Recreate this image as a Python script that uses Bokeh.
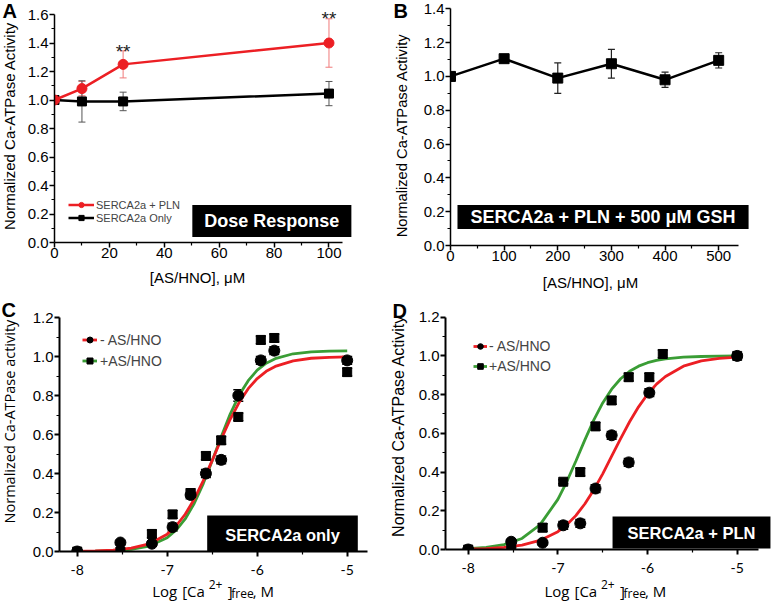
import math
from bokeh.plotting import figure
from bokeh.layouts import column, row
from bokeh.models import (ColumnDataSource, Whisker, TeeHead, Label, Legend, LegendItem,
                          FixedTicker, PrintfTickFormatter, Range1d)
from bokeh.embed import file_html
from bokeh.resources import INLINE

# ---------------- data ----------------
# Panel A: dose response
a_conc = [0, 10, 25, 100]
a_pln = [1.00, 1.08, 1.25, 1.40]
a_pln_err = [0.0, 0.05, 0.095, 0.17]
a_only = [1.00, 0.99, 0.99, 1.045]
a_only_err = [0.0, 0.145, 0.065, 0.085]
a_sig_conc = [25, 100]
a_sig_level = [1.34, 1.575]
a_x_ticks = [0, 20, 40, 60, 80, 100]
a_x_minor = [10, 30, 50, 70, 90]
a_y_ticks = [0.0, 0.2, 0.4, 0.6, 0.8, 1.0, 1.2, 1.4, 1.6]
a_y_minor = [0.1, 0.3, 0.5, 0.7, 0.9, 1.1, 1.3, 1.5]

# Panel B: + 500 uM GSH
b_conc = [0, 100, 200, 300, 400, 500]
b_act = [1.00, 1.105, 0.99, 1.075, 0.98, 1.095]
b_err = [0.0, 0.01, 0.09, 0.085, 0.045, 0.045]
b_x_ticks = [0, 100, 200, 300, 400, 500]
b_x_minor = [50, 150, 250, 350, 450]
b_y_ticks = [0.0, 0.2, 0.4, 0.6, 0.8, 1.0, 1.2, 1.4]
b_y_minor = [0.1, 0.3, 0.5, 0.7, 0.9, 1.1, 1.3]

# Panel C: SERCA2a only
c_pca = [-8.0, -7.52, -7.17, -6.94, -6.74, -6.57, -6.40, -6.21, -5.96, -5.81, -5.0]
c_minus = [0.0, 0.046, 0.04, 0.125, 0.29, 0.40, 0.47, 0.80, 0.98, 1.03, 0.98]
c_minus_err = [0.01, 0.01, 0.01, 0.02, 0.02, 0.02, 0.02, 0.03, 0.02, 0.02, 0.02]
c_plus = [0.0, 0.0, 0.09, 0.19, 0.30, 0.49, 0.57, 0.69, 1.085, 1.095, 0.92]
c_plus_err = [0.01, 0.01, 0.02, 0.02, 0.02, 0.02, 0.02, 0.02, 0.02, 0.02, 0.02]
fit_x = [-8.0, -7.8, -7.6, -7.4, -7.2, -7.0, -6.9, -6.8, -6.7, -6.6, -6.5, -6.4,
         -6.3, -6.2, -6.1, -6.0, -5.9, -5.8, -5.6, -5.4, -5.2, -5.0]
c_fit_minus = [0.001, 0.003, 0.007, 0.017, 0.039, 0.089, 0.132, 0.191, 0.268, 0.362, 0.467, 0.576,
               0.678, 0.765, 0.835, 0.887, 0.924, 0.949, 0.978, 0.991, 0.996, 0.998]
c_fit_plus = [0.001, 0.002, 0.004, 0.011, 0.028, 0.071, 0.110, 0.167, 0.246, 0.347, 0.465, 0.589,
              0.705, 0.802, 0.876, 0.930, 0.966, 0.989, 1.014, 1.024, 1.028, 1.029]

# Panel D: SERCA2a + PLN
d_pca_minus = [-8.0, -7.52, -7.17, -6.94, -6.75, -6.58, -6.40, -6.21, -5.98, -5.0]
d_minus = [0.0, 0.04, 0.035, 0.125, 0.135, 0.315, 0.59, 0.45, 0.81, 1.0]
d_minus_err = [0.01, 0.01, 0.01, 0.02, 0.02, 0.02, 0.02, 0.02, 0.02, 0.01]
d_pca_plus = [-8.0, -7.52, -7.17, -6.94, -6.75, -6.58, -6.40, -6.21, -5.98, -5.83, -5.0]
d_plus = [0.0, 0.0, 0.113, 0.35, 0.40, 0.636, 0.77, 0.89, 0.89, 1.01, 1.0]
d_plus_err = [0.01, 0.01, 0.02, 0.01, 0.02, 0.02, 0.02, 0.02, 0.02, 0.02, 0.01]
d_fit_minus = [0.003, 0.005, 0.011, 0.023, 0.047, 0.092, 0.128, 0.175, 0.235, 0.308, 0.391, 0.482,
               0.573, 0.660, 0.737, 0.802, 0.854, 0.894, 0.947, 0.974, 0.987, 0.994]
d_fit_plus = [0.004, 0.011, 0.025, 0.057, 0.127, 0.259, 0.351, 0.456, 0.565, 0.668, 0.757, 0.828,
              0.882, 0.921, 0.947, 0.965, 0.977, 0.985, 0.994, 0.997, 0.999, 1.0]

ca_x_ticks = [-8, -7, -6, -5]
ca_x_minor = [-7.5, -6.5, -5.5]
ca_y_ticks = [0.0, 0.2, 0.4, 0.6, 0.8, 1.0, 1.2]
ca_y_minor = [0.1, 0.3, 0.5, 0.7, 0.9, 1.1]

RED = "#ec1f24"
GREEN = "#3a9d35"
SANS = "Liberation Sans"
HUM = "Open Sans"
ROT_FIX = 23  # rotated labels render this many px above their anchor


# ---------------- helpers ----------------
class Panel:
    """Main plotting figure; page-pixel geometry -> data ranges."""

    def __init__(self, box, L, B, xmap, ymap, x_axis_end_px, y_axis_top,
                 xt, xm, yt, ym, xfont, xsize, xstand, yfont, ysize, lw):
        px0, py0, w, h = box
        (xa, xapx), (xb, xbpx) = xmap
        (ya, yapx), (yb, ybpx) = ymap
        self.sx = (xbpx - xapx) / (xb - xa)
        self.sy = (yapx - ybpx) / (yb - ya)
        self.xa, self.xapx, self.ya, self.yapx = xa, xapx, ya, yapx
        x0, _ = self.data(L, 0)
        x1, _ = self.data(px0 + w, 0)
        _, y0 = self.data(0, B)
        _, y1 = self.data(0, py0)
        xend, _ = self.data(x_axis_end_px, 0)
        p = figure(width=w, height=h, x_range=Range1d(x0, x1), y_range=Range1d(y0, y1),
                   output_backend="svg", toolbar_location=None, title=None,
                   min_border_left=L - px0, min_border_right=0,
                   min_border_top=0, min_border_bottom=py0 + h - B)
        p.outline_line_color = None
        p.xgrid.visible = False
        p.ygrid.visible = False
        for ax, ticks, minor, font, size, bounds in (
                (p.xaxis[0], xt, xm, xfont, xsize, (x0, xend)),
                (p.yaxis[0], yt, ym, yfont, ysize, (y0, y_axis_top))):
            ax.ticker = FixedTicker(ticks=ticks, minor_ticks=minor)
            ax.bounds = bounds
            ax.axis_line_width = lw
            ax.axis_line_color = "black"
            ax.major_tick_out = 5
            ax.major_tick_in = 0
            ax.minor_tick_out = 3
            ax.minor_tick_in = 0
            ax.major_tick_line_width = lw
            ax.minor_tick_line_width = 1.2
            ax.major_tick_line_color = "black"
            ax.minor_tick_line_color = "black"
            ax.major_label_text_font = font
            ax.major_label_text_font_size = size
            ax.major_label_text_color = "black"
        p.xaxis[0].formatter = PrintfTickFormatter(format="%d")
        p.yaxis[0].formatter = PrintfTickFormatter(format="%.1f")
        p.xaxis[0].major_label_standoff = xstand
        p.yaxis[0].major_label_standoff = 1
        self.p = p

    def data(self, px, py):
        return self.xa + (px - self.xapx) / self.sx, self.ya + (self.yapx - py) / self.sy

    def label(self, px, py, text, size, font=SANS, style="normal", color="black",
              bg=None, pad=None):
        x, y = self.data(px, py)
        lab = Label(x=x, y=y, text=text, text_font=font, text_font_size=f"{size}px",
                    text_font_style=style, text_color=color, text_align="center",
                    text_baseline="middle")
        if bg is not None:
            lab.background_fill_color = bg
            lab.padding = pad
        self.p.add_layout(lab)


def strip(box, texts):
    """Text-only strip; its data units are pixels from its bottom-left corner."""
    px0, py0, w, h = box
    s = figure(width=w, height=h, x_range=Range1d(0, w), y_range=Range1d(0, h),
               output_backend="svg", toolbar_location=None, title=None,
               x_axis_type=None, y_axis_type=None, min_border=0)
    s.outline_line_color = None
    s.xgrid.visible = False
    s.ygrid.visible = False
    for (px, py, text, size, font, style, align, baseline, angle) in texts:
        if angle:
            py = py + ROT_FIX
        s.add_layout(Label(x=px - px0, y=py0 + h - py, text=text, text_font=font,
                           text_font_size=f"{size}px", text_font_style=style,
                           text_color="black", text_align=align, text_baseline=baseline,
                           angle=angle))
    return s


def whisk(p, xs, ys, errs, color, width, head):
    src = ColumnDataSource(dict(base=xs, upper=[y + e for y, e in zip(ys, errs)],
                                lower=[y - e for y, e in zip(ys, errs)]))
    p.add_layout(Whisker(source=src, base="base", upper="upper", lower="lower",
                         line_color=color, line_width=width,
                         upper_head=TeeHead(size=head, line_color=color, line_width=width),
                         lower_head=TeeHead(size=head, line_color=color, line_width=width)))


def legend(items, loc, gw, gh, lh, standoff, size):
    return Legend(items=[LegendItem(label=t, renderers=r) for t, r in items],
                  location=loc, padding=0, margin=0, spacing=0, glyph_width=gw,
                  glyph_height=gh, label_height=lh, label_standoff=standoff,
                  label_text_font=SANS, label_text_font_size=size,
                  border_line_color=None, background_fill_alpha=0)


V = math.pi / 2

# ---------------- Panel A ----------------
A = Panel((24, 0, 364, 270), 53, 242, ((0, 53), (100, 328.3)), ((0, 242), (1.6, 14)), 342, 1.6,
          a_x_ticks, a_x_minor, a_y_ticks, a_y_minor, SANS, "15px", 0, SANS, "15px", 1.5)
pA = A.p
whisk(pA, a_conc, a_pln, a_pln_err, "#f07a7a", 1, 7)
whisk(pA, a_conc, a_only, a_only_err, "#555555", 1, 7)
la1 = pA.line(a_conc, a_only, line_color="black", line_width=2.5)
sa1 = pA.scatter(a_conc, a_only, marker="square", size=9, color="black")
la2 = pA.line(a_conc, a_pln, line_color=RED, line_width=2.5)
sa2 = pA.scatter(a_conc, a_pln, marker="circle", size=10, color=RED)
for xc, yl in zip(a_sig_conc, a_sig_level):
    pA.add_layout(Label(x=xc, y=yl, text="**", text_font=SANS, text_font_size="19px",
                        text_color="#222222", text_align="center", text_baseline="middle"))
pA.add_layout(legend([("SERCA2a + PLN", [la2, sa2]), ("SERCA2a Only", [la1, sa1])],
                     (14, 18), 26, 13, 13, 2, "11px"))
A.label(271, 220.5, "Dose Response", 18, style="bold", color="white", bg="black", pad=(12, 6))
sLA = strip((0, 0, 24, 270), [(2, 11.5, "A", 20, SANS, "bold", "left", "middle", 0),
                              (8.5, 233, "Normalized Ca-ATPase Activity", 15, SANS, "normal",
                               "left", "middle", V)])
sBA = strip((0, 270, 388, 30), [(197, 277, "[AS/HNO], μM", 15, SANS, "normal", "center", "middle", 0)])

# ---------------- Panel B ----------------
Bp = Panel((420, 0, 357, 270), 449, 245, ((0, 449), (500, 718)), ((0, 245), (1.4, 8.3)), 738, 1.4,
           b_x_ticks, b_x_minor, b_y_ticks, b_y_minor, SANS, "15px", 0, SANS, "15px", 1.5)
pB = Bp.p
whisk(pB, b_conc, b_act, b_err, "#222222", 1.2, 7)
pB.line(b_conc, b_act, line_color="black", line_width=2.5)
pB.scatter(b_conc, b_act, marker="square", size=10, color="black")
Bp.label(602, 216.5, "SERCA2a + PLN + 500 μM GSH", 18, style="bold", color="white", bg="black",
         pad=(13, 2))
sLB = strip((388, 0, 32, 270), [(393, 11.5, "B", 20, SANS, "bold", "left", "middle", 0),
                                (401, 238, "Normalized Ca-ATPase Activity", 14.7, SANS, "normal",
                                 "left", "middle", V)])
sBB = strip((388, 270, 389, 30), [(590, 282, "[AS/HNO], μM", 15, SANS, "normal", "center", "middle", 0)])

# ---------------- Panel C ----------------
C = Panel((24, 300, 364, 277), 59, 551, ((-8, 76.7), (-5, 346.7)), ((0, 551), (1.2, 317)), 367, 1.2,
          ca_x_ticks, ca_x_minor, ca_y_ticks, ca_y_minor, "Lato", "14px", 8, SANS, "15px", 2)
pC = C.p
whisk(pC, c_pca, c_minus, c_minus_err, "black", 1.5, 10)
whisk(pC, c_pca, c_plus, c_plus_err, "black", 1.5, 10)
lc1 = pC.line(fit_x, c_fit_plus, line_color=GREEN, line_width=2.8)
lc2 = pC.line(fit_x, c_fit_minus, line_color=RED, line_width=2.8)
sc1 = pC.scatter(c_pca, c_minus, marker="circle", size=11, color="black")
sc2 = pC.scatter(c_pca, c_plus, marker="square", size=9, color="black")
pC.add_layout(legend([("- AS/HNO", [lc2, sc1]), ("+AS/HNO", [lc1, sc2])],
                     (23, 180), 15, 21, 21, 3, "14px"))
C.label(282, 534, "SERCA2a only", 16.5, style="bold", color="white", bg="black", pad=(18, 10))
sLC = strip((0, 300, 24, 277), [(1, 311, "C", 20, SANS, "bold", "left", "middle", 0),
                                (9, 523, "Normalized Ca-ATPase activity", 14.5, HUM, "normal",
                                 "left", "middle", V)])
# x-axis title pieces: (offset from start, text, size, vertical position, baseline)
xlab_pieces = [(0, "Log", 15, 590.5, "alphabetic"), (30, "[Ca", 15, 590.5, "alphabetic"),
               (56.5, "2+", 12, 579.5, "top"), (75.5, "]", 15, 590.5, "alphabetic"),
               (79, "free", 12, 593, "alphabetic"), (100.5, ", M", 15, 590.5, "alphabetic")]
sBC = strip((0, 577, 388, 28), [(151.7 + o, yy, t, s, HUM, "normal", "left", bl, 0)
                                for o, t, s, yy, bl in xlab_pieces])

# ---------------- Panel D ----------------
D = Panel((410, 300, 367, 277), 445, 549, ((-8, 467.7), (-5, 736.7)), ((0, 549), (1.2, 316.7)), 758, 1.2,
          ca_x_ticks, ca_x_minor, ca_y_ticks, ca_y_minor, "Lato", "14px", 8, SANS, "15px", 2)
pD = D.p
whisk(pD, d_pca_minus, d_minus, d_minus_err, "black", 1.5, 10)
whisk(pD, d_pca_plus, d_plus, d_plus_err, "black", 1.5, 10)
ld1 = pD.line(fit_x, d_fit_plus, line_color=GREEN, line_width=2.8)
ld2 = pD.line(fit_x, d_fit_minus, line_color=RED, line_width=2.8)
sd1 = pD.scatter(d_pca_minus, d_minus, marker="circle", size=11, color="black")
sd2 = pD.scatter(d_pca_plus, d_plus, marker="square", size=9, color="black")
pD.add_layout(legend([("- AS/HNO", [ld2, sd1]), ("+AS/HNO", [ld1, sd2])],
                     (28, 173), 14, 20, 20, 2, "14px"))
D.label(691, 532, "SERCA2a + PLN", 16.5, style="bold", color="white", bg="black", pad=(15, 7))
sLD = strip((388, 300, 22, 277), [(392, 312, "D", 20, SANS, "bold", "left", "middle", 0),
                                  (398, 540, "Normalized Ca-ATPase Activity", 16, SANS, "normal",
                                   "left", "middle", V)])
sBD = strip((388, 577, 389, 28), [(544 + o, yy, t, s, HUM, "normal", "left", bl, 0)
                                  for o, t, s, yy, bl in xlab_pieces])

layout = column(
    row(column(row(sLA, pA), sBA), column(row(sLB, pB), sBB)),
    row(column(row(sLC, pC), sBC), column(row(sLD, pD), sBD)),
)
open("out.html", "w").write(file_html(layout, INLINE))
